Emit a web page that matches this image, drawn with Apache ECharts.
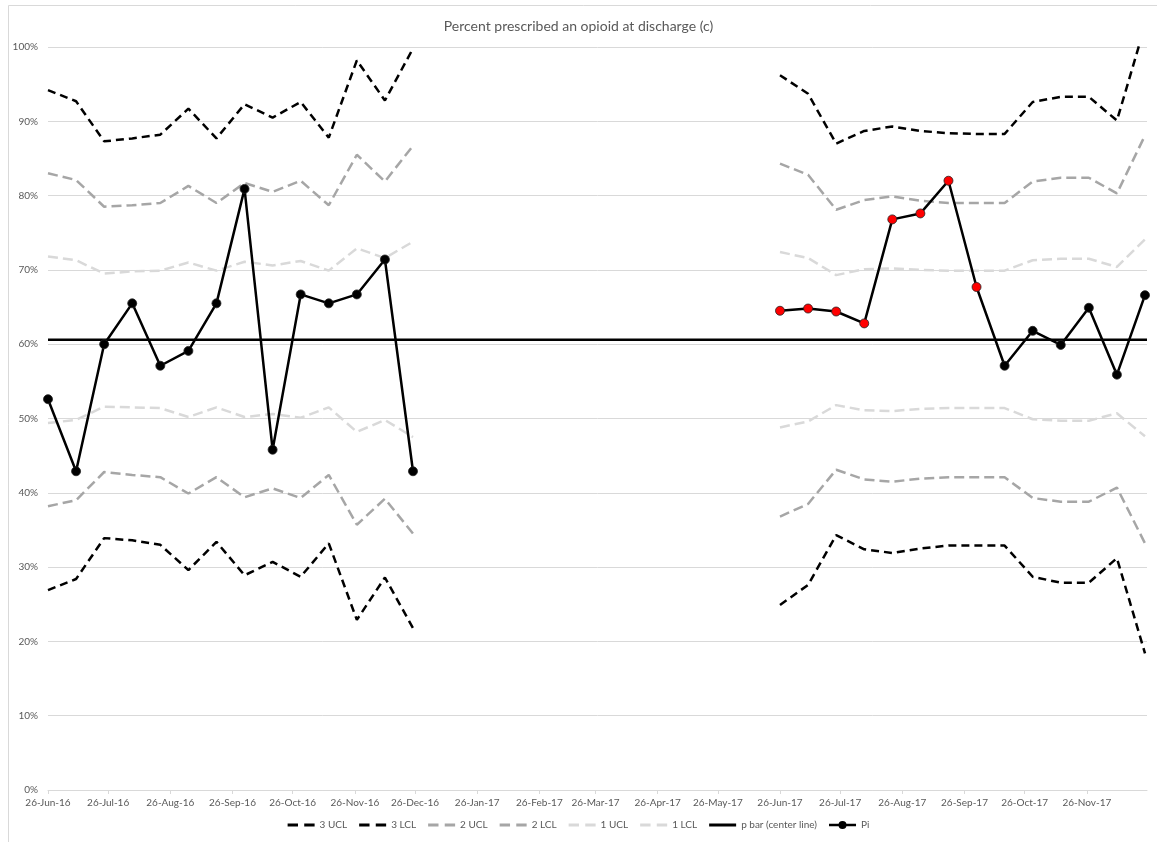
<!DOCTYPE html>
<html>
<head>
<meta charset="utf-8">
<script src="https://cdn.jsdelivr.net/npm/echarts@6/dist/echarts.min.js"></script>
<style>
html,body{margin:0;padding:0;background:#fff;}
#chart{width:1157px;height:842px;}
</style>
</head>
<body>
<div id="chart"></div>
<script>
// ---------- data ----------
const titleText = 'Percent prescribed an opioid at discharge (c)';
const seg1Dates = ['2016-06-26','2016-07-10','2016-07-24','2016-08-07','2016-08-21','2016-09-04','2016-09-18',
                   '2016-10-02','2016-10-16','2016-10-30','2016-11-13','2016-11-27','2016-12-11','2016-12-25'];
const seg2Dates = ['2017-06-26','2017-07-10','2017-07-24','2017-08-07','2017-08-21','2017-09-04','2017-09-18',
                   '2017-10-02','2017-10-16','2017-10-30','2017-11-13','2017-11-27','2017-12-11','2017-12-25'];
const gapDate = '2017-03-26';
const axisStart = '2016-06-26';
const axisEnd = '2017-12-26';
const tickDates = ['2016-06-26','2016-07-26','2016-08-26','2016-09-26','2016-10-26','2016-11-26','2016-12-26',
                   '2017-01-26','2017-02-26','2017-03-26','2017-04-26','2017-05-26','2017-06-26','2017-07-26',
                   '2017-08-26','2017-09-26','2017-10-26','2017-11-26'];
const legendNames = ['3 UCL','3 LCL','2 UCL','2 LCL','1 UCL','1 LCL','p bar (center line)','Pi'];

const ucl3Seg1 = [94.2, 92.7, 87.3, 87.7, 88.2, 91.7, 87.7, 92.3, 90.5, 92.6, 87.8, 98.2, 92.8, 99.8];
const lcl3Seg1 = [26.9, 28.4, 33.9, 33.6, 33.0, 29.6, 33.4, 28.9, 30.7, 28.7, 33.2, 22.9, 28.6, 21.8];
const ucl2Seg1 = [83.0, 82.1, 78.5, 78.7, 79.0, 81.3, 79.0, 81.7, 80.5, 82.0, 78.7, 85.5, 81.9, 86.7];
const lcl2Seg1 = [38.2, 39.0, 42.8, 42.4, 42.1, 39.9, 42.1, 39.4, 40.6, 39.3, 42.4, 35.7, 39.2, 34.5];
const ucl1Seg1 = [71.8, 71.3, 69.5, 69.8, 69.9, 71.0, 69.9, 71.1, 70.6, 71.2, 69.9, 72.9, 71.6, 73.8];
const lcl1Seg1 = [49.4, 49.8, 51.6, 51.5, 51.4, 50.2, 51.5, 50.2, 50.6, 50.1, 51.5, 48.2, 49.8, 47.5];
const piSeg1   = [52.6, 42.9, 60.0, 65.5, 57.1, 59.1, 65.5, 80.9, 45.8, 66.7, 65.5, 66.7, 71.4, 42.9];

const ucl3Seg2 = [96.2, 93.7, 87.0, 88.7, 89.3, 88.7, 88.4, 88.3, 88.3, 92.6, 93.3, 93.3, 90.1, 102.9];
const lcl3Seg2 = [24.9, 27.6, 34.3, 32.4, 31.9, 32.5, 32.9, 32.9, 32.9, 28.7, 27.9, 27.9, 31.2, 18.4];
const ucl2Seg2 = [84.3, 82.8, 78.1, 79.4, 79.9, 79.3, 79.0, 79.0, 79.0, 81.9, 82.4, 82.4, 80.3, 88.1];
const lcl2Seg2 = [36.8, 38.5, 43.1, 41.8, 41.5, 41.9, 42.1, 42.1, 42.1, 39.3, 38.8, 38.8, 40.7, 33.2];
const ucl1Seg2 = [72.4, 71.6, 69.3, 70.1, 70.2, 70.0, 69.9, 69.9, 69.9, 71.3, 71.5, 71.5, 70.4, 74.1];
const lcl1Seg2 = [48.8, 49.6, 51.8, 51.1, 51.0, 51.3, 51.4, 51.4, 51.4, 49.9, 49.7, 49.7, 50.7, 47.6];
const piSeg2   = [64.5, 64.8, 64.4, 62.8, 76.8, 77.6, 82.0, 67.7, 57.1, 61.8, 59.9, 64.9, 55.9, 66.6];
// special-cause signal flags for Pi
const signalSeg1 = [false,false,false,false,false,false,false,false,false,false,false,false,false,false];
const signalSeg2 = [true,true,true,true,true,true,true,true,false,false,false,false,false,false];

const pBar = 60.6;

// ---------- helpers ----------
const DAY = 86400000;
function dateOf(s){ const p = s.split('-').map(Number); return Date.UTC(p[0], p[1]-1, p[2]); }
const T0 = dateOf(axisStart);
function dayNum(s){ return Math.round((dateOf(s) - T0) / DAY); }
const MON = ['Jan','Feb','Mar','Apr','May','Jun','Jul','Aug','Sep','Oct','Nov','Dec'];
function fmtDay(v){ const d = new Date(T0 + Math.round(v) * DAY);
  return d.getUTCDate() + '-' + MON[d.getUTCMonth()] + '-' + String(d.getUTCFullYear()).slice(2); }
function build(a, b){
  const out = seg1Dates.map((d,i)=>[dayNum(d), a[i]]);
  out.push([dayNum(gapDate), '-']);
  seg2Dates.forEach((d,i)=>out.push([dayNum(d), b[i]]));
  return out;
}
const piSignal = signalSeg1.concat([false], signalSeg2);
const tickVals = tickDates.map(dayNum);

const FONT = 'Lato, "Open Sans", sans-serif';
const TXT = '#595959';

const C3 = '#000000', C2 = '#a6a6a6', C1 = '#d9d9d9';
const ICON_DASH = 'path://M0,0H10V3H0Z M16,0H26V3H16Z';
const ICON_SOLID = 'path://M0,0H27V3H0Z';
const ICON_PI = 'path://M0,3H27V5.5H0Z M9.5,4.25a4,4 0 1,1 8,0a4,4 0 1,1 -8,0Z';
const legendStyle = [
  [ICON_DASH, C3],[ICON_DASH, C3],[ICON_DASH, C2],[ICON_DASH, C2],
  [ICON_DASH, C1],[ICON_DASH, C1],[ICON_SOLID, '#000'],[ICON_PI, '#000']
];

function limitSeries(name, a, b, color, dash){
  return {
    name, type:'line', data: build(a,b), symbol:'none', connectNulls:false,
    lineStyle:{color, width:2.5, type:dash}, itemStyle:{color}, z:2
  };
}

const chart = echarts.init(document.getElementById('chart'), null, {renderer:'canvas'});
chart.setOption({
  animation:false,
  backgroundColor:'#fff',
  title:{ text:titleText, left:'center', top:14,
    textStyle:{ fontFamily:FONT, fontSize:14, fontWeight:'normal', color:TXT } },
  graphic:[{ type:'rect', shape:{x:8.5, y:5.5, width:1200, height:900},
    style:{fill:'none', stroke:'#d9d9d9', lineWidth:1}, silent:true, z:-1 }],
  legend:{ bottom:7, left:'center', itemWidth:27, itemHeight:10, itemGap:12,
    textStyle:{ fontFamily:FONT, fontSize:10, color:TXT },
    data: legendNames.map((n,i)=>({ name:n, icon:legendStyle[i][0],
      itemStyle:{ color:legendStyle[i][1], borderWidth:0 } })) },
  grid:{ left:48, right:10, top:47, bottom:52, containLabel:false },
  xAxis:{
    type:'value', min:0, max:dayNum(axisEnd),
    axisLine:{ show:true, lineStyle:{color:'#d9d9d9', width:1} },
    axisTick:{ show:true, length:4, lineStyle:{color:'#d9d9d9'}, customValues: tickVals },
    axisLabel:{ customValues: tickVals, formatter: fmtDay, color:TXT,
      fontFamily:FONT, fontSize:10, margin:8 },
    splitLine:{ show:false }
  },
  yAxis:{
    type:'value', min:0, max:100, interval:10,
    axisLine:{show:false}, axisTick:{show:false},
    axisLabel:{ formatter:'{value}%', color:TXT, fontFamily:FONT, fontSize:10, margin:10 },
    splitLine:{ lineStyle:{color:'#d9d9d9', width:1} }
  },
  series:[
    limitSeries('3 UCL', ucl3Seg1, ucl3Seg2, C3, [8,5]),
    limitSeries('3 LCL', lcl3Seg1, lcl3Seg2, C3, [8,5]),
    limitSeries('2 UCL', ucl2Seg1, ucl2Seg2, C2, [10,5]),
    limitSeries('2 LCL', lcl2Seg1, lcl2Seg2, C2, [10,5]),
    limitSeries('1 UCL', ucl1Seg1, ucl1Seg2, C1, [10,5]),
    limitSeries('1 LCL', lcl1Seg1, lcl1Seg2, C1, [10,5]),
    { name:'p bar (center line)', type:'line', symbol:'none',
      data:[[0, pBar],[dayNum(axisEnd), pBar]],
      lineStyle:{color:'#000', width:2.5}, itemStyle:{color:'#000'}, z:3 },
    { name:'Pi', type:'line', data: build(piSeg1, piSeg2), connectNulls:false,
      symbol:'circle', symbolSize:9, showAllSymbol:true,
      lineStyle:{color:'#000', width:2.5},
      itemStyle:{ color: p => (p && p.dataIndex != null && piSignal[p.dataIndex]) ? '#ff0000' : '#000000',
                  borderColor:'#222', borderWidth:0.8 },
      z:5 }
  ]
});
</script>
</body>
</html>
